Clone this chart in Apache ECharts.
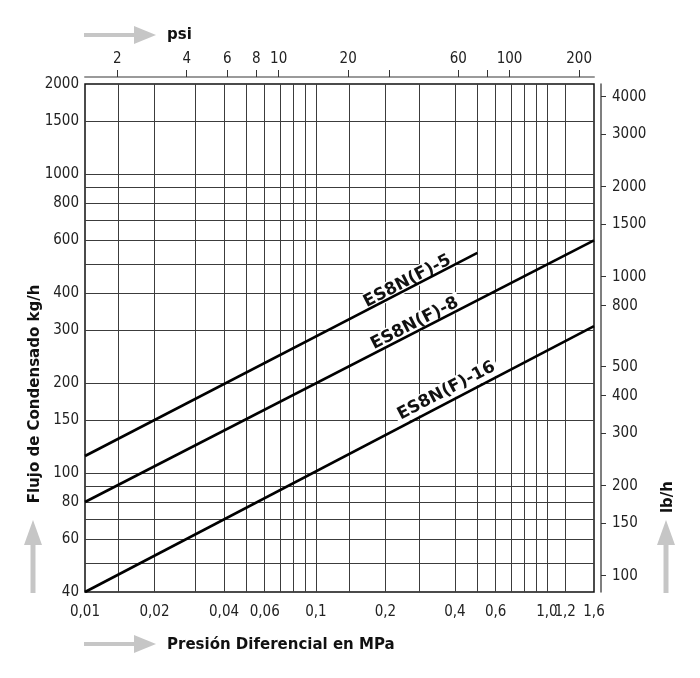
<!DOCTYPE html>
<html>
<head>
<meta charset="utf-8">
<script src="https://cdn.jsdelivr.net/npm/echarts@6/dist/echarts.min.js"></script>
<style>
  html, body { margin: 0; padding: 0; background: #fff; }
  #chart { width: 700px; height: 678px; }
</style>
</head>
<body>
<div id="chart"></div>
<script>
  // rejilla y etiquetas (MPa / kg/h)
  var xGridValues = [0.014, 0.02, 0.03, 0.04, 0.05, 0.06, 0.07, 0.08, 0.09, 0.1, 0.14, 0.2, 0.28, 0.4, 0.5, 0.6, 0.7, 0.8, 0.9, 1.0, 1.2];
  var xLabelValues = [0.01, 0.02, 0.04, 0.06, 0.1, 0.2, 0.4, 0.6, 1.0, 1.2, 1.6];
  var yGridValues = [50, 60, 70, 80, 90, 100, 150, 200, 300, 400, 500, 600, 700, 800, 900, 1000, 1500];
  var yLabelValues = [40, 60, 80, 100, 150, 200, 300, 400, 600, 800, 1000, 1500, 2000];
  // ejes secundarios
  var psiTicks = [2, 4, 6, 8, 10, 20, 30, 60, 80, 100, 200];
  var psiLabels = [2, 4, 6, 8, 10, 20, 60, 100, 200];
  var lbhTicks = [100, 150, 200, 300, 400, 500, 800, 1000, 1500, 2000, 3000, 4000];

  var MPA_PER_PSI = 0.0068948;
  var LB_PER_KG = 2.20462;

  // curvas [MPa, kg/h]
  var es5 = [[0.01, 114], [0.5, 545]];
  var es8 = [[0.01, 80], [1.6, 600]];
  var es16 = [[0.01, 40], [1.6, 310]];
  var curveNames = ['ES8N(F)-5', 'ES8N(F)-8', 'ES8N(F)-16'];

  var tickFont = '"DejaVu Sans Condensed", "DejaVu Sans", sans-serif';
  var titleFont = '"DejaVu Sans", sans-serif';
  var gridColor = '#3c3c3c';

  function mpaLabel(v) {
    var s = +(+v).toPrecision(6);
    if (s === 1) return '1,0';
    return String(s).replace('.', ',');
  }
  function intLabel(v) {
    return String(Math.round(v));
  }

  var chart = echarts.init(document.getElementById('chart'));

  var option = {
    animation: false,
    backgroundColor: '#fff',
    grid: {
      left: 85, right: 106, top: 84, bottom: 86,
      show: true, borderColor: '#111', borderWidth: 1.5
    },
    xAxis: [
      {
        type: 'log', min: 0.01, max: 1.6,
        axisLine: { show: false },
        axisTick: { show: false, customValues: xGridValues },
        axisLabel: {
          customValues: xLabelValues, formatter: mpaLabel,
          margin: 13, fontFamily: tickFont, fontSize: 15, color: '#222'
        },
        splitLine: { show: true, lineStyle: { color: gridColor, width: 1 } },
        minorTick: { show: false }, minorSplitLine: { show: false }
      },
      {
        type: 'log', position: 'top', offset: 7,
        min: 0.01 / MPA_PER_PSI, max: 1.6 / MPA_PER_PSI,
        axisLine: { show: true, lineStyle: { color: '#9a9a9a', width: 2 } },
        axisTick: { show: true, customValues: psiTicks, length: 7, lineStyle: { color: '#333', width: 1 } },
        axisLabel: {
          customValues: psiLabels, formatter: intLabel,
          margin: 10, fontFamily: tickFont, fontSize: 15, color: '#222'
        },
        splitLine: { show: false }
      }
    ],
    yAxis: [
      {
        type: 'log', min: 40, max: 2000,
        axisLine: { show: false },
        axisTick: { show: false, customValues: yGridValues },
        axisLabel: {
          customValues: yLabelValues, formatter: intLabel,
          margin: 6, fontFamily: tickFont, fontSize: 15, color: '#222'
        },
        splitLine: { show: true, lineStyle: { color: gridColor, width: 1 } }
      },
      {
        type: 'log', position: 'right', offset: 7,
        min: 40 * LB_PER_KG, max: 2000 * LB_PER_KG,
        axisLine: { show: true, lineStyle: { color: '#555', width: 1.5 } },
        axisTick: { show: true, customValues: lbhTicks, length: 5, lineStyle: { color: '#333' } },
        axisLabel: {
          customValues: lbhTicks, formatter: intLabel,
          margin: 11, fontFamily: tickFont, fontSize: 15, color: '#222'
        },
        splitLine: { show: false }
      }
    ],
    series: [es5, es8, es16].map(function (d, i) {
      return {
        name: curveNames[i], type: 'line', data: d,
        xAxisIndex: 0, yAxisIndex: 0,
        symbol: 'none', silent: true, z: 3,
        lineStyle: { color: '#000', width: 2.6 }
      };
    })
  };
  chart.setOption(option);

  // etiquetas de las curvas, giradas con la pendiente en pantalla
  var labelAt = [0.83, 0.655, 0.72];
  var labelGap = [7, 8, 11];
  var curves = [es5, es8, es16];
  var graphics = [];
  curves.forEach(function (d, i) {
    var p0 = chart.convertToPixel({ gridIndex: 0 }, d[0]);
    var p1 = chart.convertToPixel({ gridIndex: 0 }, d[1]);
    var ang = Math.atan2(p0[1] - p1[1], p1[0] - p0[0]);
    var t = labelAt[i];
    var cx = p0[0] + (p1[0] - p0[0]) * t - Math.sin(ang) * labelGap[i];
    var cy = p0[1] + (p1[1] - p0[1]) * t - Math.cos(ang) * labelGap[i];
    graphics.push({
      type: 'text', z: 1, x: cx, y: cy, rotation: ang,
      style: {
        text: curveNames[i], x: 0, y: 0, align: 'center', verticalAlign: 'middle',
        font: 'bold 17px ' + titleFont, fill: '#111',
        backgroundColor: '#fff', padding: [1, 3]
      }
    });
  });

  // flechas grises y títulos de los ejes
  var arrowColor = '#c6c6c6';
  function arrowRight(x, y) {
    return [
      { type: 'rect', shape: { x: x, y: y - 2, width: 52, height: 4 }, style: { fill: arrowColor } },
      { type: 'polygon', shape: { points: [[x + 50, y - 9], [x + 72, y], [x + 50, y + 9]] }, style: { fill: arrowColor } }
    ];
  }
  function arrowUp(x, y) {
    return [
      { type: 'rect', shape: { x: x - 2.5, y: y - 50, width: 5, height: 50 }, style: { fill: arrowColor } },
      { type: 'polygon', shape: { points: [[x - 9, y - 48], [x, y - 73], [x + 9, y - 48]] }, style: { fill: arrowColor } }
    ];
  }
  graphics = graphics
    .concat(arrowRight(84, 35))
    .concat(arrowRight(84, 644))
    .concat(arrowUp(33, 593))
    .concat(arrowUp(666, 593));

  graphics.push(
    { type: 'text', x: 167, y: 35, style: { text: 'psi', font: 'bold 15px ' + titleFont, fill: '#111', align: 'left', verticalAlign: 'middle' } },
    { type: 'text', x: 167, y: 645, style: { text: 'Presión Diferencial en MPa', font: 'bold 15px ' + titleFont, fill: '#111', align: 'left', verticalAlign: 'middle' } },
    { type: 'text', x: 35, y: 394, rotation: Math.PI / 2, style: { text: 'Flujo de Condensado kg/h', font: 'bold 15px ' + titleFont, fill: '#111', align: 'center', verticalAlign: 'middle' } },
    { type: 'text', x: 668, y: 497, rotation: Math.PI / 2, style: { text: 'lb/h', font: 'bold 15px ' + titleFont, fill: '#111', align: 'center', verticalAlign: 'middle' } }
  );

  chart.setOption({ graphic: graphics });
</script>
</body>
</html>
